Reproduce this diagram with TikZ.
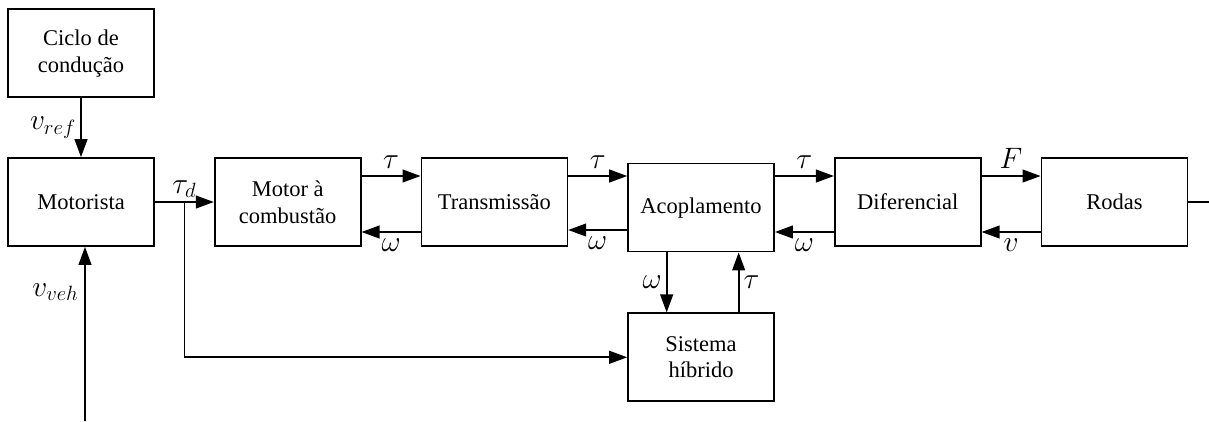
\RequirePackage{fix-cm}
\documentclass[tikz,border=0pt]{standalone}
\usepackage{amsmath}
\usepackage{fontspec}
\setmainfont{Liberation Serif}
\usepackage{tikz}
\usetikzlibrary{arrows.meta,positioning,calc}
\tikzset{
  >={Triangle[length=4.5mm,width=3.2mm]},
  block/.style={draw, line width=1.2pt, rectangle, minimum height=22mm, minimum width=36.5mm, align=center},
  conn/.style={->, line width=1.2pt},
  lbl/.style={font=\fontsize{21}{25}\selectfont, inner sep=4.5pt},
}

\begin{document}
\begin{tikzpicture}[node distance=14.75mm, font=\fontsize{16}{19}\selectfont]
  \useasboundingbox (0,0) rectangle (302.25mm,-105.25mm);
  % nodes
  \node[block] (Mot) at (20.25mm,-50.5mm) {Motorista};
  \node[block, above=of Mot] (Ciclo) {Ciclo de\\condução};
  \node[block, right=of Mot] (Comb) {Motor à\\combustão};
  \node[block, right=of Comb] (Trans) {Transmissão};
  \node[block, right=of Trans, yshift=-1.4mm] (Acop) {Acoplamento};
  \node[block, right=of Acop, yshift=1.4mm] (Dif) {Diferencial};
  \node[block, right=of Dif] (Rodas) {Rodas};
  \node[block, below=15mm of Acop] (Hib) {Sistema\\híbrido};
  \coordinate[right=6.75mm of Rodas] (vout);
  \coordinate (vin) at (21.25mm,-105.25mm);

  % connections
  \draw[conn] (Ciclo) -- node[lbl, left, inner sep=3pt] {$v_{ref}$} (Mot);
  \draw[conn] (vin) -- node[lbl, left, pos=0.74, inner sep=4pt] {$v_{veh}$} ([xshift=1mm]Mot.south);
  \draw[conn] (Mot.east) -- node[lbl, above, inner sep=2.5pt] {$\tau_d$} coordinate[pos=0.5] (tdtap) (Comb.west);
  \draw[conn] ([yshift=6.5mm]Comb.east) -- node[lbl, above] {$\tau$} ([yshift=6.5mm]Trans.west);
  \draw[conn] ([yshift=-7.5mm]Trans.west) -- node[lbl, below] {$\omega$} ([yshift=-7.5mm]Comb.east);
  \draw[conn] ([yshift=6.5mm]Trans.east) -- node[lbl, above] {$\tau$} ([yshift=6.5mm]Trans.east -| Acop.west);
  \draw[conn] ([yshift=-7mm]Trans.east -| Acop.west) -- node[lbl, below] {$\omega$} ([yshift=-7mm]Trans.east);
  \draw[conn] ([yshift=6.5mm]Dif.west -| Acop.east) -- node[lbl, above] {$\tau$} ([yshift=6.5mm]Dif.west);
  \draw[conn] ([yshift=-7.5mm]Dif.west) -- node[lbl, below] {$\omega$} ([yshift=-7.5mm]Dif.west -| Acop.east);
  \draw[conn] ([yshift=6.5mm]Dif.east) -- node[lbl, above] {$F$} ([yshift=6.5mm]Rodas.west);
  \draw[conn] ([yshift=-7.5mm]Rodas.west) -- node[lbl, below] {$v$} ([yshift=-7.5mm]Dif.east);
  \draw[line width=1.2pt] (Rodas.east) -- (vout);

  % hybrid branch
  \draw[conn] ([xshift=-8.6mm]Acop.south) -- node[lbl, left, inner sep=3pt] {$\omega$} ([xshift=-8.6mm]Acop.south |- Hib.north);
  \draw[conn] ([xshift=9.4mm]Acop.south |- Hib.north) -- node[lbl, right, inner sep=3pt] {$\tau$} ([xshift=9.4mm]Acop.south);
  \draw[conn] (tdtap) |- (Hib.west);
\end{tikzpicture}
\end{document}
